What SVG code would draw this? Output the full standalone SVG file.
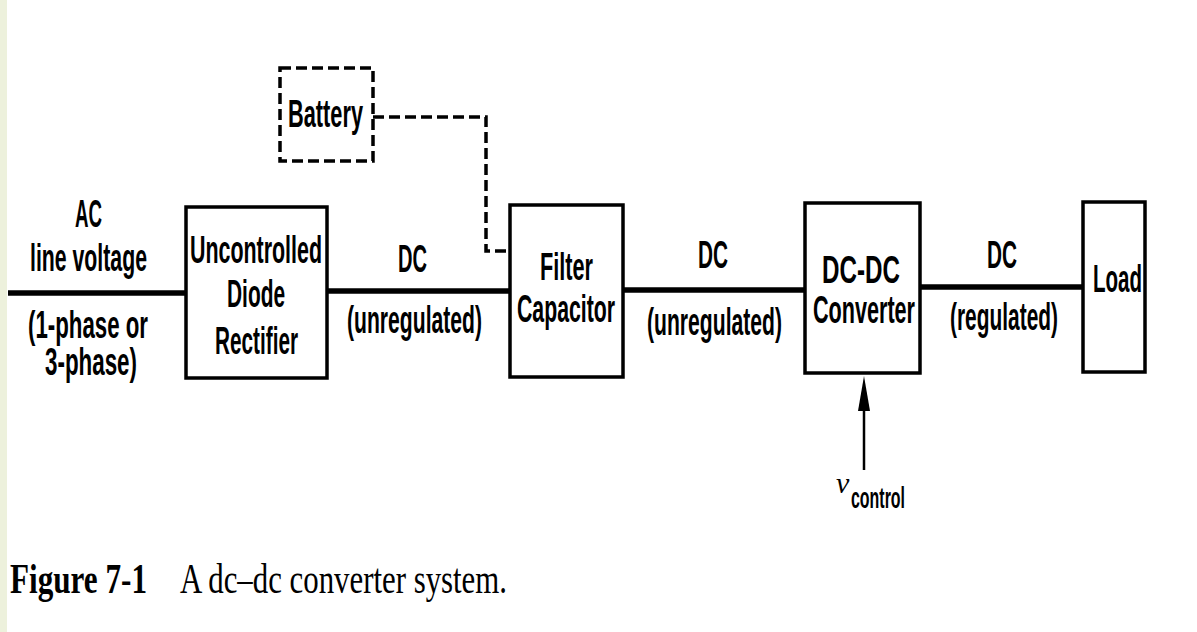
<svg xmlns="http://www.w3.org/2000/svg" width="1197" height="632" viewBox="0 0 1197 632">
<style>
.box{fill:none;stroke:#000;stroke-width:3.5}
.dash{fill:none;stroke:#000;stroke-width:3.5;stroke-dasharray:11 5}
.wire{stroke:#000;stroke-width:5.5;fill:none}
.t{font-family:"Liberation Sans Narrow","Liberation Sans",Arial,sans-serif;font-weight:bold;font-size:38px;fill:#000;text-anchor:start}
.sub{font-size:29px}
.cap{font-family:"Liberation Serif","Times New Roman",serif;font-size:42px;fill:#000}
</style>
<rect x="0" y="0" width="1197" height="632" fill="#fff"/>
<rect x="0" y="0" width="7" height="632" fill="#edf1dc"/>
<g id="connectors">
<line class="wire" x1="8" y1="293" x2="186" y2="293"/>
<line class="wire" x1="327" y1="291" x2="510" y2="291"/>
<line class="wire" x1="623" y1="290" x2="805" y2="290"/>
<line class="wire" x1="920" y1="287" x2="1083" y2="287"/>
<polyline class="dash" points="373,117 486,117 486,251 510,251"/>
<line x1="864" y1="470" x2="864" y2="400" stroke="#000" stroke-width="2.5"/>
<polygon points="864,376 858,411 870,411" fill="#000"/>
</g>
<g id="labels-ac">
<text class="t" x="75" y="227" textLength="27" lengthAdjust="spacingAndGlyphs">AC</text>
<text class="t" x="30" y="271" textLength="117" lengthAdjust="spacingAndGlyphs">line voltage</text>
<text class="t" x="28" y="338" textLength="120" lengthAdjust="spacingAndGlyphs">(1-phase or</text>
<text class="t" x="45" y="375" textLength="92" lengthAdjust="spacingAndGlyphs">3-phase)</text>
</g>
<g id="rectifier">
<rect class="box" x="186" y="207" width="141" height="171"/>
<text class="t" x="190" y="263" textLength="132" lengthAdjust="spacingAndGlyphs">Uncontrolled</text>
<text class="t" x="227" y="307" textLength="58" lengthAdjust="spacingAndGlyphs">Diode</text>
<text class="t" x="215" y="354" textLength="83" lengthAdjust="spacingAndGlyphs">Rectifier</text>
</g>
<g id="labels-dc1">
<text class="t" x="398" y="272" textLength="29" lengthAdjust="spacingAndGlyphs">DC</text>
<text class="t" x="347" y="333" textLength="135" lengthAdjust="spacingAndGlyphs">(unregulated)</text>
</g>
<g id="battery">
<rect class="dash" x="280" y="68" width="93" height="93"/>
<text class="t" x="288" y="127" textLength="75" lengthAdjust="spacingAndGlyphs">Battery</text>
</g>
<g id="filter">
<rect class="box" x="510" y="205" width="113" height="172"/>
<text class="t" x="540" y="280" textLength="53" lengthAdjust="spacingAndGlyphs">Filter</text>
<text class="t" x="517" y="322" textLength="98" lengthAdjust="spacingAndGlyphs">Capacitor</text>
</g>
<g id="labels-dc2">
<text class="t" x="698" y="268" textLength="30" lengthAdjust="spacingAndGlyphs">DC</text>
<text class="t" x="647" y="335" textLength="135" lengthAdjust="spacingAndGlyphs">(unregulated)</text>
</g>
<g id="converter">
<rect class="box" x="805" y="203" width="115" height="170"/>
<text class="t" x="822" y="283" textLength="78" lengthAdjust="spacingAndGlyphs">DC-DC</text>
<text class="t" x="813" y="323" textLength="102" lengthAdjust="spacingAndGlyphs">Converter</text>
</g>
<g id="labels-dc3">
<text class="t" x="987" y="268" textLength="30" lengthAdjust="spacingAndGlyphs">DC</text>
<text class="t" x="950" y="330" textLength="108" lengthAdjust="spacingAndGlyphs">(regulated)</text>
</g>
<g id="load">
<rect class="box" x="1083" y="202" width="62" height="170"/>
<text class="t" x="1093" y="292" textLength="49" lengthAdjust="spacingAndGlyphs">Load</text>
</g>
<g id="vcontrol">
<text x="836" y="493" font-family="Liberation Serif, serif" font-style="italic" font-size="30" fill="#000">v</text>
<text class="t sub" x="851" y="508" textLength="54" lengthAdjust="spacingAndGlyphs">control</text>
</g>
<g id="caption">
<text class="cap" x="10" y="593" font-weight="bold" textLength="137" lengthAdjust="spacingAndGlyphs">Figure 7-1</text>
<text class="cap" x="180" y="593" textLength="327" lengthAdjust="spacingAndGlyphs">A dc–dc converter system.</text>
</g>
</svg>
